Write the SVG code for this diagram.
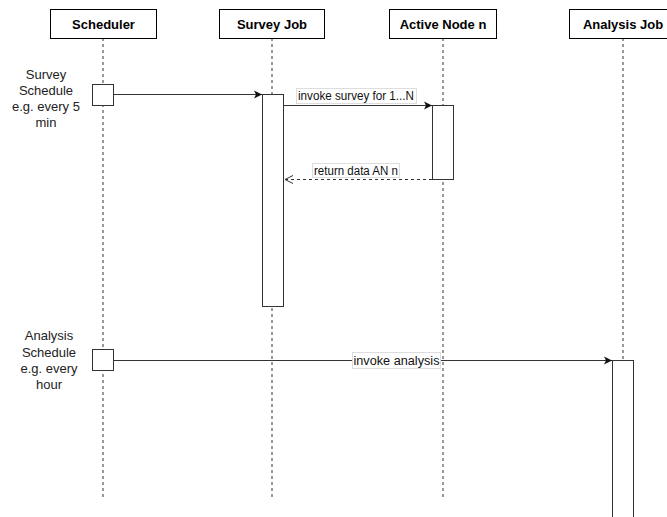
<svg xmlns="http://www.w3.org/2000/svg" width="667" height="517" viewBox="0 0 667 517">
<defs>
<style>
.hdr{fill:#fff;stroke:#000;stroke-width:1}
.hdrt{font-family:"Liberation Sans",Arial,sans-serif;font-size:13px;font-weight:bold;fill:#000;text-anchor:middle}
.life{stroke:#333;stroke-width:1;stroke-dasharray:3,3;fill:none}
.act{fill:#fff;stroke:#333;stroke-width:1}
.msg{stroke:#333;stroke-width:1;fill:none}
.ret{stroke:#333;stroke-width:1;fill:none;stroke-dasharray:3,3}
.lbl{fill:#fff;stroke:#ddd;stroke-width:1}
.lt{font-family:"Liberation Sans",Arial,sans-serif;font-size:12px;fill:#111}
.note{font-family:"Liberation Sans",Arial,sans-serif;font-size:13px;fill:#222;text-anchor:middle}
</style>
<marker id="arr" markerWidth="10" markerHeight="10" refX="9" refY="5" orient="auto" markerUnits="userSpaceOnUse">
<path d="M1,1 L9,5 L1,9 L3,5 Z" fill="#111"/>
</marker>
<marker id="open" markerWidth="10" markerHeight="10" refX="9" refY="5" orient="auto" markerUnits="userSpaceOnUse">
<path d="M1,1 L9,5 L1,9" fill="none" stroke="#333" stroke-width="1"/>
</marker>
</defs>
<rect width="667" height="517" fill="#fff"/>

<g id="lifelines">
<line class="life" x1="103" y1="38" x2="103" y2="497"/>
<line class="life" x1="272" y1="38" x2="272" y2="497"/>
<line class="life" x1="443" y1="38" x2="443" y2="497"/>
<line class="life" x1="623" y1="38" x2="623" y2="361"/>
</g>

<g id="scheduler">
<rect class="hdr" x="50.5" y="9.5" width="106" height="29"/>
<text class="hdrt" x="103.5" y="28.5">Scheduler</text>
</g>
<g id="survey-job">
<rect class="hdr" x="219.5" y="9.5" width="105" height="29"/>
<text class="hdrt" x="272" y="28.5">Survey Job</text>
</g>
<g id="active-node">
<rect class="hdr" x="389.5" y="9.5" width="107" height="29"/>
<text class="hdrt" x="443" y="28.5">Active Node n</text>
</g>
<g id="analysis-job">
<rect class="hdr" x="569.5" y="9.5" width="108" height="29"/>
<text class="hdrt" x="623" y="28.5">Analysis Job</text>
</g>

<g id="survey-schedule">
<rect class="act" x="92.5" y="84.5" width="21" height="21"/>
<text class="note" x="46" y="79">Survey</text>
<text class="note" x="46" y="95">Schedule</text>
<text class="note" x="46" y="111">e.g. every 5</text>
<text class="note" x="46" y="127">min</text>
</g>
<g id="survey-activation">
<rect class="act" x="262.5" y="94.5" width="21" height="212"/>
</g>
<g id="active-node-activation">
<rect class="act" x="432.5" y="105.5" width="21" height="74"/>
</g>
<g id="analysis-schedule">
<rect class="act" x="92.5" y="349.5" width="21" height="21"/>
<text class="note" x="49" y="340">Analysis</text>
<text class="note" x="49" y="357">Schedule</text>
<text class="note" x="49" y="373">e.g. every</text>
<text class="note" x="49" y="389">hour</text>
</g>
<g id="analysis-activation">
<rect class="act" x="612.5" y="360.5" width="21" height="160"/>
</g>

<g id="connectors">
<line class="msg" x1="113.5" y1="94.5" x2="262" y2="94.5" marker-end="url(#arr)"/>
<line class="msg" x1="283.5" y1="105.5" x2="432" y2="105.5" marker-end="url(#arr)"/>
<line class="ret" x1="432" y1="179.5" x2="285" y2="179.5" marker-end="url(#open)"/>
<line class="msg" x1="113.5" y1="360.5" x2="612" y2="360.5" marker-end="url(#arr)"/>
<rect class="lbl" x="296.5" y="88.5" width="120" height="15"/>
<text class="lt" x="298" y="100" textLength="116" lengthAdjust="spacingAndGlyphs">invoke survey for 1...N</text>
<rect class="lbl" x="312.5" y="163.5" width="87" height="14"/>
<text class="lt" x="314" y="174.5" textLength="84" lengthAdjust="spacingAndGlyphs">return data AN n</text>
<rect class="lbl" x="352.5" y="352.5" width="88" height="16"/>
<text class="lt" x="353.5" y="365" textLength="86" lengthAdjust="spacingAndGlyphs">invoke analysis</text>
</g>
</svg>
